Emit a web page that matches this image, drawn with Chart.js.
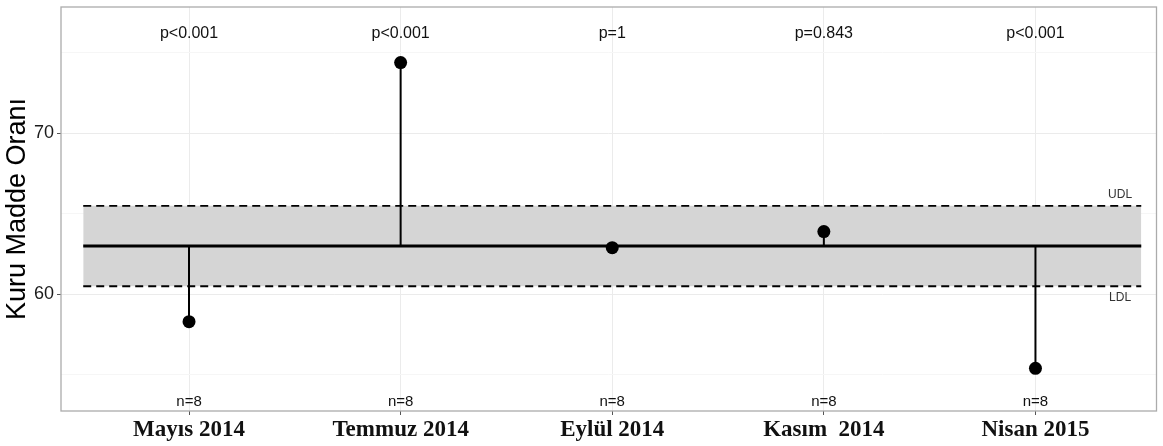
<!DOCTYPE html>
<html>
<head>
<meta charset="utf-8">
<script src="https://cdn.jsdelivr.net/npm/chart.js@4/dist/chart.umd.min.js"></script>
<style>
  html, body { margin: 0; padding: 0; background: #fff; }
  #wrap { width: 1163px; height: 446px; position: relative; }
</style>
</head>
<body>
<div id="wrap"><canvas id="c"></canvas></div>
<script>
// Sampling periods and their mean dry-matter ratios
const categories = ['Mayıs 2014', 'Temmuz 2014', 'Eylül 2014', 'Kasım  2014', 'Nisan 2015'];
const values = [58.3, 74.4, 62.9, 63.9, 55.4];
const pLabels = ['p<0.001', 'p<0.001', 'p=1', 'p=0.843', 'p<0.001'];
const nLabels = ['n=8', 'n=8', 'n=8', 'n=8', 'n=8'];

// Reference level and detection limits
const centerLine = 63.0;
const upperLimit = 65.5;
const lowerLimit = 60.5;

// Axis ticks
const yMajorTicks = [60, 70];
const yMinorTicks = [55, 65, 75];

// Where the annotation texts sit (data units)
const pLabelY = 76.2;
const nLabelY = 53.3;
const limitLabelX = 5.40;
const limitLabelOffset = 0.68;

const xs = categories.map((_, i) => i + 1);
const bandStart = 0.5, bandEnd = 5.5;

const pointData = values.map((v, i) => ({ x: xs[i], y: v }));
const stemData = [];
values.forEach((v, i) => {
  stemData.push({ x: xs[i], y: centerLine }, { x: xs[i], y: v }, { x: xs[i], y: null });
});

const annotate = {
  id: 'annotate',
  afterDraw(chart) {
    const { ctx, chartArea: a, scales: { x, y } } = chart;
    ctx.save();
    // panel border
    ctx.strokeStyle = '#ababab';
    ctx.lineWidth = 1.3;
    ctx.strokeRect(a.left, a.top, a.right - a.left, a.bottom - a.top);

    ctx.textAlign = 'center';
    ctx.textBaseline = 'middle';
    ctx.fillStyle = '#111';
    xs.forEach((xv, i) => {
      const px = x.getPixelForValue(xv);
      ctx.font = '16px "Liberation Sans", Arial, sans-serif';
      ctx.fillText(pLabels[i], px, y.getPixelForValue(pLabelY));
      ctx.font = '15px "Liberation Sans", Arial, sans-serif';
      ctx.fillText(nLabels[i], px, y.getPixelForValue(nLabelY));
    });

    ctx.fillStyle = '#333';
    ctx.font = '12px "Liberation Sans", Arial, sans-serif';
    const lx = x.getPixelForValue(limitLabelX);
    ctx.fillText('UDL', lx, y.getPixelForValue(upperLimit + limitLabelOffset));
    ctx.fillText('LDL', lx, y.getPixelForValue(lowerLimit - limitLabelOffset));

    // y-axis title
    ctx.fillStyle = '#000';
    ctx.font = '27px "Liberation Sans", Arial, sans-serif';
    ctx.translate(18, (a.top + a.bottom) / 2);
    ctx.rotate(-Math.PI / 2);
    ctx.fillText('Kuru Madde Oranı', 0, 0);
    ctx.restore();
  }
};

new Chart(document.getElementById('c'), {
  type: 'line',
  data: {
    datasets: [
      {
        type: 'scatter',
        data: pointData,
        pointRadius: 6.5,
        pointHoverRadius: 6.5,
        pointBackgroundColor: '#000',
        pointBorderColor: '#000',
        pointBorderWidth: 0,
        showLine: false,
        order: 0
      },
      {
        data: stemData,
        borderColor: '#000',
        borderWidth: 2,
        pointRadius: 0,
        spanGaps: false,
        fill: false,
        order: 1
      },
      {
        data: [{ x: bandStart, y: centerLine }, { x: bandEnd, y: centerLine }],
        borderColor: '#000',
        borderWidth: 3.2,
        pointRadius: 0,
        fill: false,
        order: 2
      },
      {
        data: [{ x: bandStart, y: upperLimit }, { x: bandEnd, y: upperLimit }],
        borderColor: '#000',
        borderWidth: 1.8,
        borderDash: [8, 5],
        pointRadius: 0,
        fill: false,
        order: 3
      },
      {
        data: [{ x: bandStart, y: lowerLimit }, { x: bandEnd, y: lowerLimit }],
        borderColor: '#000',
        borderWidth: 1.8,
        borderDash: [8, 5],
        pointRadius: 0,
        fill: '-1',
        backgroundColor: '#d5d5d5',
        order: 4
      }
    ]
  },
  options: {
    responsive: true,
    maintainAspectRatio: false,
    animation: false,
    layout: { padding: { top: 7, right: 6, left: 0, bottom: 0 } },
    plugins: { legend: { display: false }, tooltip: { enabled: false } },
    events: [],
    scales: {
      x: {
        type: 'linear',
        min: 0.395,
        max: 5.572,
        afterBuildTicks: (scale) => { scale.ticks = xs.map(v => ({ value: v })); },
        afterFit: (scale) => {
          scale.height = 35;
          scale.paddingLeft = 0;
          scale.paddingRight = 0;
        },
        border: { display: false },
        grid: { color: '#ebebeb', lineWidth: 1, tickColor: '#555', tickLength: 4, drawTicks: true },
        ticks: {
          autoSkip: false,
          maxRotation: 0,
          padding: 1,
          color: '#111',
          font: { family: '"Liberation Serif", "Times New Roman", serif', size: 23, weight: 'bold' },
          callback: (v) => categories[v - 1]
        }
      },
      y: {
        type: 'linear',
        min: 52.75,
        max: 77.85,
        afterBuildTicks: (scale) => {
          scale.ticks = [...yMajorTicks, ...yMinorTicks].sort((a, b) => a - b).map(v => ({ value: v }));
        },
        afterFit: (scale) => {
          scale.width = 61;
          scale.paddingTop = 0;
          scale.paddingBottom = 0;
        },
        border: { display: false },
        grid: {
          color: (c) => (c.tick && yMajorTicks.includes(c.tick.value)) ? '#ebebeb' : '#f6f6f6',
          tickColor: (c) => (c.tick && yMajorTicks.includes(c.tick.value)) ? '#555' : 'rgba(0,0,0,0)',
          tickLength: 4,
          drawTicks: true
        },
        ticks: {
          padding: 3,
          color: '#1a1a1a',
          font: { family: '"Liberation Sans", Arial, sans-serif', size: 18 },
          callback: (v) => yMajorTicks.includes(v) ? String(v) : ''
        }
      }
    }
  },
  plugins: [annotate]
});
</script>
</body>
</html>
